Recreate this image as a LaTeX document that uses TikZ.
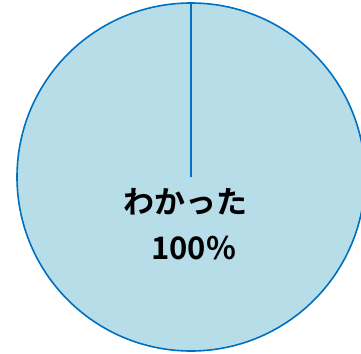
\documentclass[tikz,border=0pt]{standalone}
\usepackage{fontspec}
\newfontfamily\jp{Noto Sans CJK JP}[BoldFont={Noto Sans CJK JP Bold}]
\definecolor{piefill}{RGB}{183,221,232}
\definecolor{pieline}{RGB}{0,112,192}
\tikzset{lbl/.style={font=\jp\bfseries\fontsize{31}{31}\selectfont, inner sep=0pt, anchor=center}}
\begin{document}
\begin{tikzpicture}[x=1pt,y=-1pt]
\useasboundingbox (0,0) rectangle (361,353);
\begin{scope}
\clip (0,0) rectangle (361,353);
\coordinate (c) at (191,177);
\coordinate (top) at (191,3);
\fill[piefill] (c) circle[radius=174];
\draw[pieline, line width=1.6pt] (c) circle[radius=174];
\draw[pieline, line width=1.6pt] (top) -- (c);
\end{scope}
\node[lbl] (t1) at (185,202) {わかった};
\node[lbl] (t2) at (193.5,248.5) {100\%};
\end{tikzpicture}
\end{document}
